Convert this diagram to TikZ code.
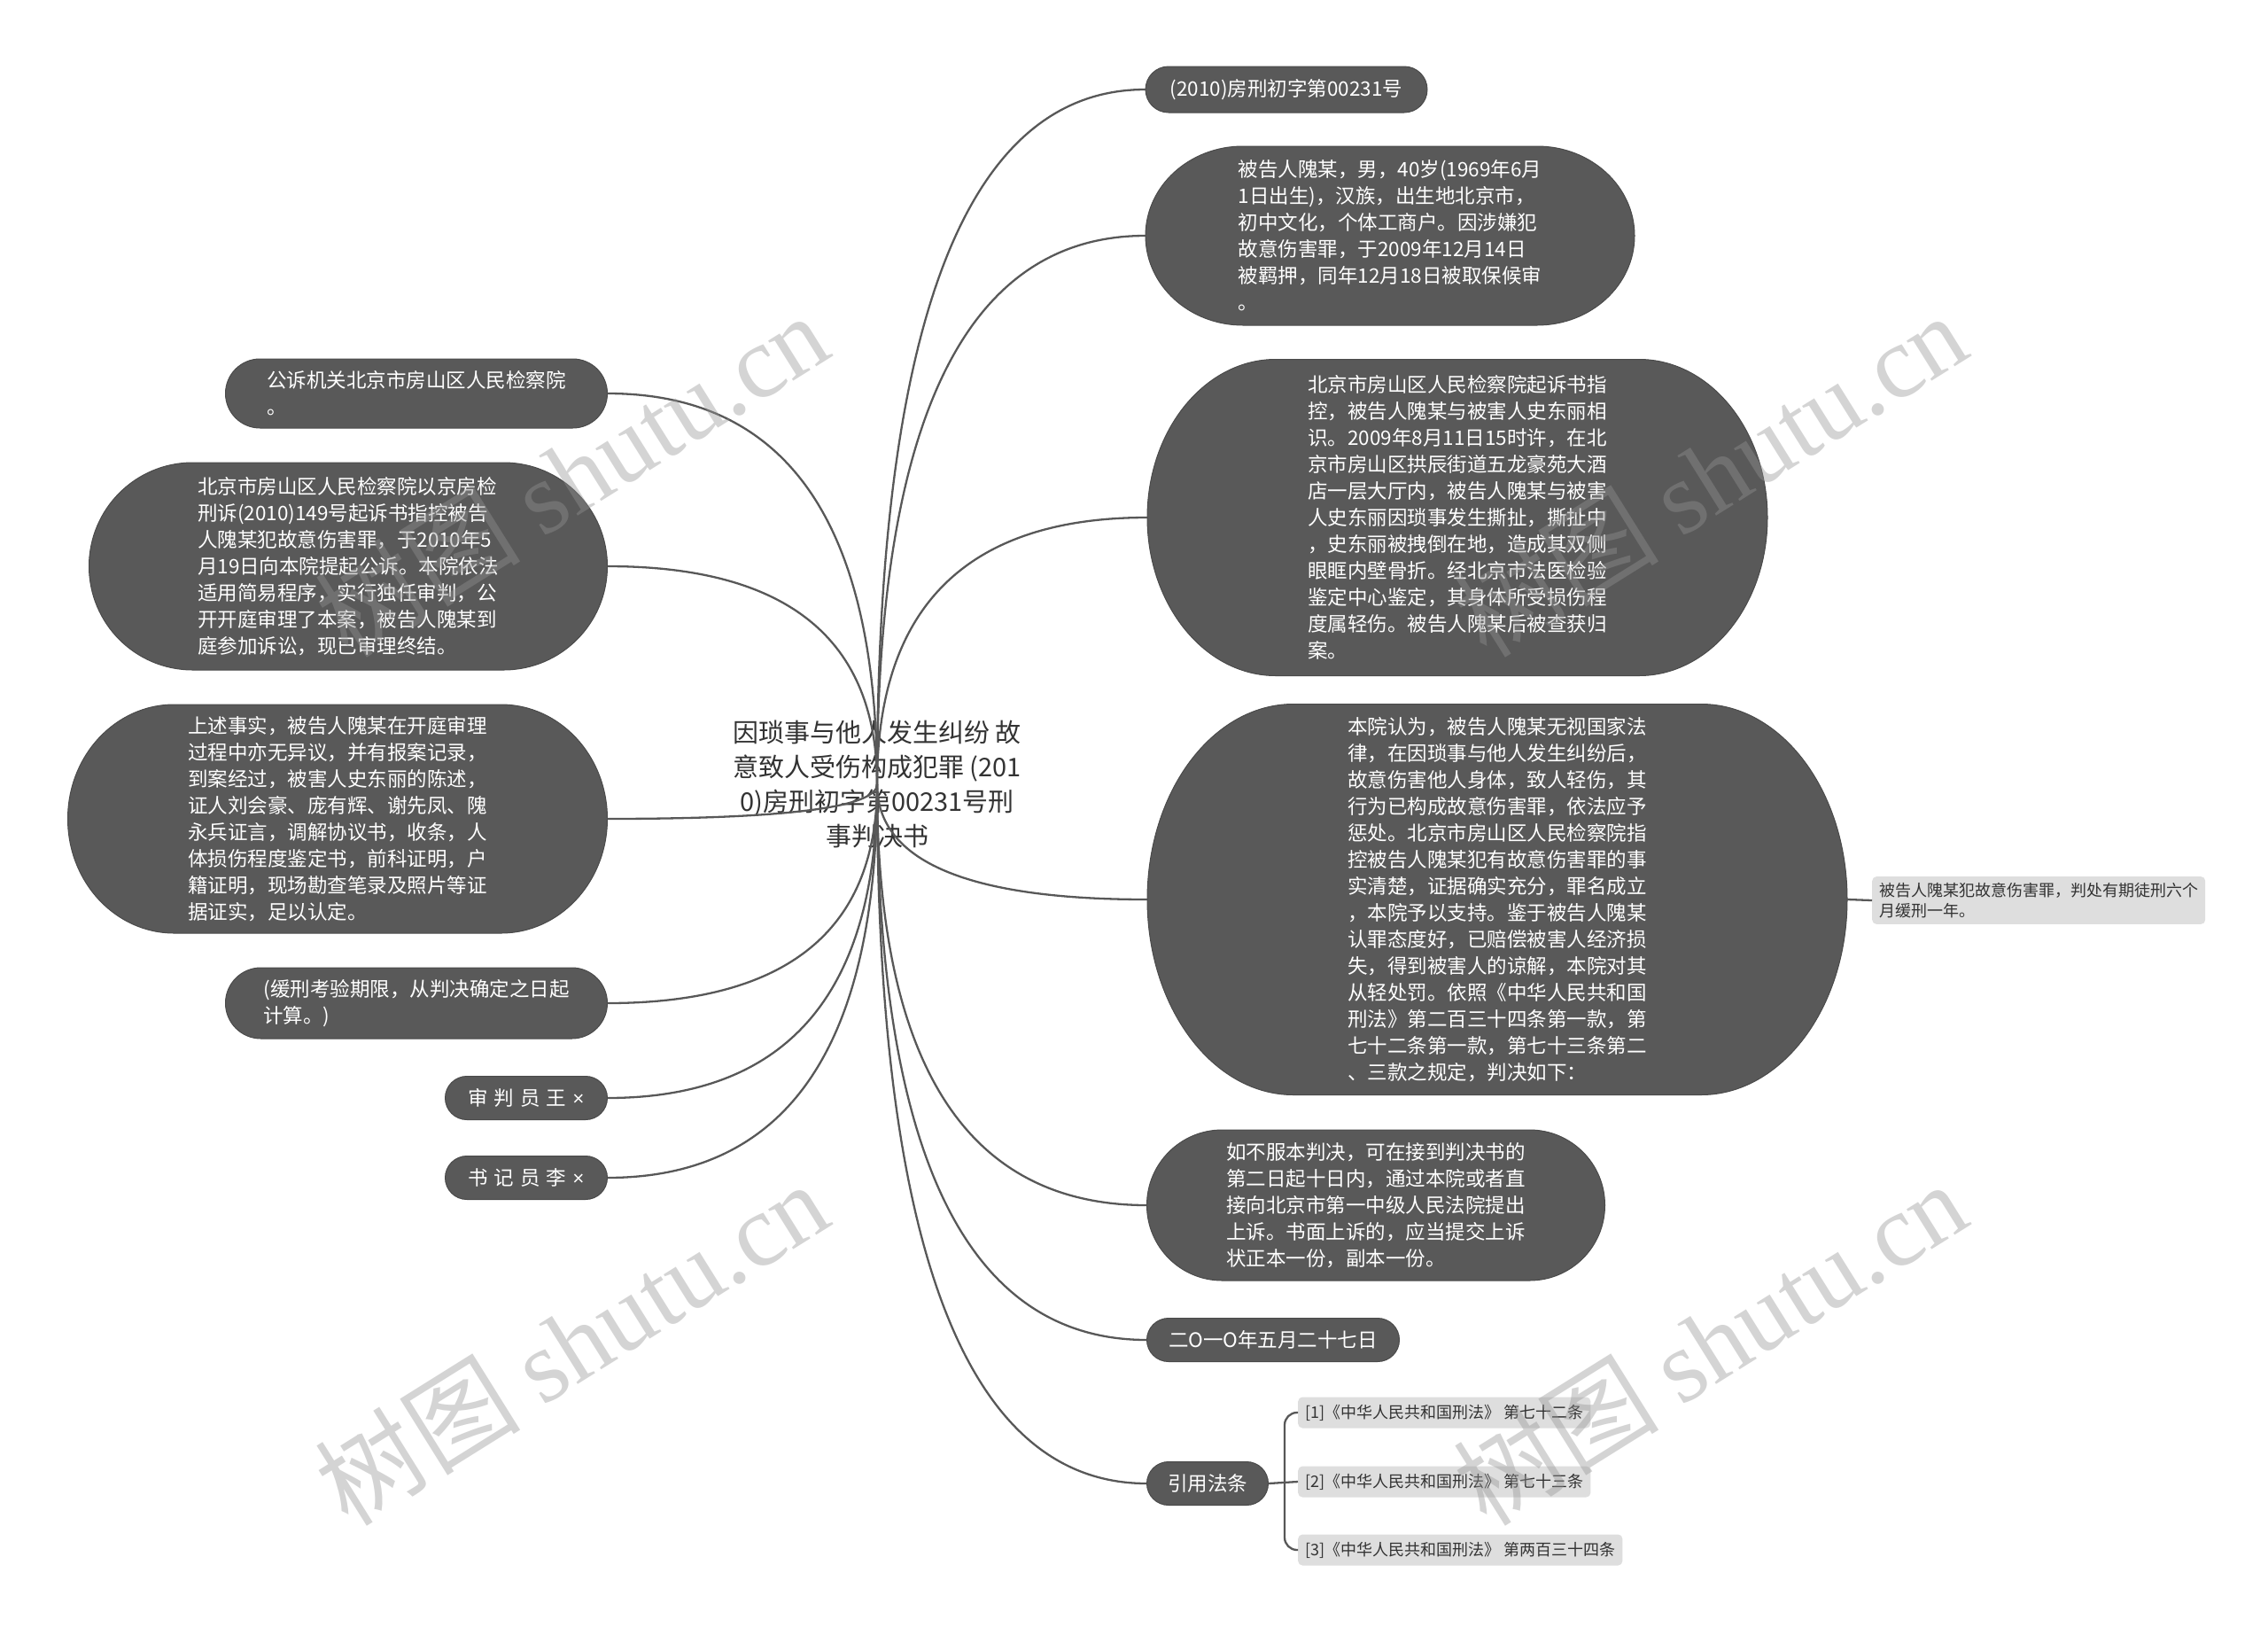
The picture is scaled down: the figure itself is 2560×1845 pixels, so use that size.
\documentclass[tikz,border=0pt]{standalone}
\usepackage{fontspec}
\setmainfont{Noto Sans CJK SC}
\newfontfamily\wmlatin{Liberation Serif}
\newfontfamily\latinsans{Liberation Sans}
\usetikzlibrary{calc}
\definecolor{pillc}{HTML}{595959}
\definecolor{pillb}{HTML}{4A4A4A}
\definecolor{linec}{HTML}{585858}
\definecolor{lightc}{HTML}{DEDEDE}
\definecolor{darktext}{HTML}{333333}

% name, cx, cy, w, h, rx, text
\newcommand\pill[7]{%
  \path[pillshape] ({#2-#4/2+#6},{#3-#5/2}) -- ({#2+#4/2-#6},{#3-#5/2})
    arc[start angle=90,end angle=-90,x radius=#6pt,y radius={#5*0.5pt}]
    -- ({#2-#4/2+#6},{#3+#5/2})
    arc[start angle=270,end angle=90,x radius=#6pt,y radius={#5*0.5pt}] -- cycle;
  \node[pilltext, minimum width=#4pt, minimum height=#5pt] (#1) at (#2,#3) {#7};
}
\newcommand\rconn[2]{\draw[conn] (#1.center) .. controls ($(#1.center)!0.6667!(#1.center |- #2.west)$) and ($(#2.west)!0.6667!(#1.center |- #2.west)$) .. (#2.west);}
\newcommand\lconn[2]{\draw[conn] (#1.center) .. controls ($(#1.center)!0.6667!(#1.center |- #2.east)$) and ($(#2.east)!0.6667!(#1.center |- #2.east)$) .. (#2.east);}

\begin{document}
\begin{tikzpicture}[x=1pt,y=-1pt,
  conn/.style={draw=linec, line width=2.3pt},
  pillshape/.style={fill=pillc, draw=pillb, line width=1pt},
  pilltext/.style={shape=rectangle, inner sep=0pt, text=white, align=left,
    font=\fontsize{22.5}{30}\selectfont},
  lightbox/.style={shape=rectangle, fill=lightc, rounded corners=5pt, text=darktext,
    inner xsep=8pt, inner ysep=7pt, align=left, anchor=west,
    font=\fontsize{18}{23}\selectfont},
  roottext/.style={shape=rectangle, inner sep=0pt, text=darktext, align=center,
    font=\fontsize{29}{39}\selectfont},
  wm/.style={text=black!42, text opacity=0.4, rotate=32, inner sep=0pt,
    font=\fontsize{116}{116}\selectfont}
]
\useasboundingbox (0,0) rectangle (2560,1845);
\fill[white] (0,0) rectangle (2560,1845);

% root
\node[roottext] (root) at (990,885) {因琐事与他人发生纠纷 故\\意致人受伤构成犯罪 (201\\0)房刑初字第00231号刑\\事判决书};

% right side
\pill{r1}{1452}{101}{318}{52}{26}{(2010)房刑初字第00231号}
\pill{r2}{1569}{266}{552}{202}{110}{被告人隗某，男，40岁(1969年6月\\1日出生)，汉族，出生地北京市，\\初中文化，个体工商户。因涉嫌犯\\故意伤害罪，于2009年12月14日\\被羁押，同年12月18日被取保候审\\。}
\pill{r3}{1645}{584}{700}{357}{145}{北京市房山区人民检察院起诉书指\\控，被告人隗某与被害人史东丽相\\识。2009年8月11日15时许，在北\\京市房山区拱辰街道五龙豪苑大酒\\店一层大厅内，被告人隗某与被害\\人史东丽因琐事发生撕扯，撕扯中\\，史东丽被拽倒在地，造成其双侧\\眼眶内壁骨折。经北京市法医检验\\鉴定中心鉴定，其身体所受损伤程\\度属轻伤。被告人隗某后被查获归\\案。}
\pill{r4}{1690}{1015}{790}{441}{165}{本院认为，被告人隗某无视国家法\\律，在因琐事与他人发生纠纷后，\\故意伤害他人身体，致人轻伤，其\\行为已构成故意伤害罪，依法应予\\惩处。北京市房山区人民检察院指\\控被告人隗某犯有故意伤害罪的事\\实清楚，证据确实充分，罪名成立\\，本院予以支持。鉴于被告人隗某\\认罪态度好，已赔偿被害人经济损\\失，得到被害人的谅解，本院对其\\从轻处罚。依照《中华人民共和国\\刑法》第二百三十四条第一款，第\\七十二条第一款，第七十三条第二\\、三款之规定，判决如下：}
\pill{r5}{1553}{1360}{517}{170}{85}{如不服本判决，可在接到判决书的\\第二日起十日内，通过本院或者直\\接向北京市第一中级人民法院提出\\上诉。书面上诉的，应当提交上诉\\状正本一份，副本一份。}
\pill{r6}{1437}{1512}{285}{49}{24.5}{二O一O年五月二十七日}
\pill{r7}{1363}{1674}{137}{49}{24.5}{引用法条}

\node[lightbox] (r4c) at (2113,1016) {被告人隗某犯故意伤害罪，判处有期徒刑六个\\月缓刑一年。};
\node[lightbox, minimum height=35pt, inner ysep=4pt] (c1) at (1465,1594) {[1]《中华人民共和国刑法》 第七十二条};
\node[lightbox, minimum height=35pt, inner ysep=4pt] (c2) at (1465,1672) {[2]《中华人民共和国刑法》 第七十三条};
\node[lightbox, minimum height=35pt, inner ysep=4pt] (c3) at (1465,1749) {[3]《中华人民共和国刑法》 第两百三十四条};
\coordinate (brk) at (1450,1674);

% left side
\pill{l1}{470}{444}{431}{78}{39}{公诉机关北京市房山区人民检察院\\。}
\pill{l2}{393}{639}{585}{234}{117}{北京市房山区人民检察院以京房检\\刑诉(2010)149号起诉书指控被告\\人隗某犯故意伤害罪，于2010年5\\月19日向本院提起公诉。本院依法\\适用简易程序，实行独任审判，公\\开开庭审理了本案，被告人隗某到\\庭参加诉讼，现已审理终结。}
\pill{l3}{381}{924}{609}{258}{120}{上述事实，被告人隗某在开庭审理\\过程中亦无异议，并有报案记录，\\到案经过，被害人史东丽的陈述，\\证人刘会豪、庞有辉、谢先凤、隗\\永兵证言，调解协议书，收条，人\\体损伤程度鉴定书，前科证明，户\\籍证明，现场勘查笔录及照片等证\\据证实，足以认定。}
\pill{l4}{470}{1132}{431}{80}{40}{(缓刑考验期限，从判决确定之日起\\计算。)}
\pill{l5}{594}{1239}{183}{49}{24.5}{审\hspace{7pt}判\hspace{7pt}员\hspace{7pt}王\hspace{7pt}{\latinsans ×}}
\pill{l6}{594}{1329}{183}{49}{24.5}{书\hspace{7pt}记\hspace{7pt}员\hspace{7pt}李\hspace{7pt}{\latinsans ×}}

% connectors
\rconn{root}{r1}
\rconn{root}{r2}
\rconn{root}{r3}
\rconn{root}{r4}
\rconn{root}{r5}
\rconn{root}{r6}
\rconn{root}{r7}
\lconn{root}{l1}
\lconn{root}{l2}
\lconn{root}{l3}
\lconn{root}{l4}
\lconn{root}{l5}
\lconn{root}{l6}
\draw[conn] (r4.east) -- (r4c.west);
\draw[conn] (r7.east) -- (c2.west);
\draw[conn, rounded corners=14pt] (c1.west) -| (brk) |- (c3.west);

% watermarks
\node[wm] (wm1) at (645,535) {树图 {\wmlatin shutu.cn}};
\node[wm] (wm2) at (1930,535) {树图 {\wmlatin shutu.cn}};
\node[wm] (wm3) at (645,1515) {树图 {\wmlatin shutu.cn}};
\node[wm] (wm4) at (1930,1515) {树图 {\wmlatin shutu.cn}};
\end{tikzpicture}
\end{document}
